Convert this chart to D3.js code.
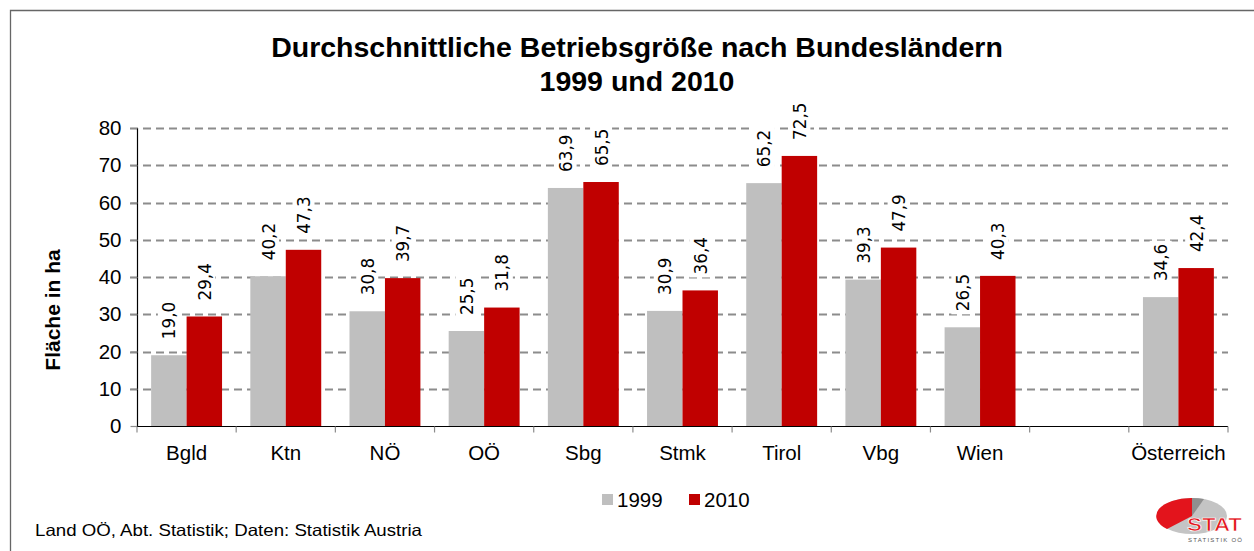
<!DOCTYPE html>
<html><head><meta charset="utf-8">
<script src="https://cdn.jsdelivr.net/npm/d3@7"></script>
<style>body{margin:0;background:#fff}svg{display:block}</style>
</head><body>
<svg id="c" width="1254" height="551"></svg>
<script>
const categories = ["Bgld","Ktn","NÖ","OÖ","Sbg","Stmk","Tirol","Vbg","Wien","","Österreich"];
const series1999 = [19.0,40.2,30.8,25.5,63.9,30.9,65.2,39.3,26.5,null,34.6];
const series2010 = [29.4,47.3,39.7,31.8,65.5,36.4,72.5,47.9,40.3,null,42.4];
const seriesNames = ["1999","2010"];
const yTicks = [0,10,20,30,40,50,60,70,80];
const titleLines = ["Durchschnittliche Betriebsgröße nach Bundesländern","1999 und 2010"];
const yLabel = "Fläche in ha";
const sourceText = "Land OÖ, Abt. Statistik; Daten: Statistik Austria";

(function(){
const colors = ["#bfbfbf","#c00000"];
const svg = d3.select("#c");
const F = "'Liberation Sans', Arial, sans-serif";

// frame
svg.append("path").attr("d","M10.5,551 V10.5 H1254").attr("fill","none").attr("stroke","#666").attr("stroke-width",1.3);

// title
svg.append("g").selectAll("text").data(titleLines).join("text")
  .attr("x",637).attr("y",(d,i)=>57+i*34).attr("text-anchor","middle")
  .attr("font-family",F).attr("font-weight","bold").attr("font-size",28.5).attr("fill","#000").text(d=>d);

const pL=137, pR=1228, pT=128, pB=426;
const x = d3.scaleBand().domain(d3.range(categories.length)).range([pL,pR]).paddingInner(0.285).paddingOuter(0.1425);
const x1 = d3.scaleBand().domain([0,1]).range([0,x.bandwidth()]);
const y = d3.scaleLinear().domain([0,80]).range([pB,pT]);

// grid
svg.append("g").selectAll("line").data(yTicks.filter(d=>d>0)).join("line")
  .attr("x1",pL-7).attr("x2",pR).attr("y1",d=>Math.round(y(d))+0.5).attr("y2",d=>Math.round(y(d))+0.5)
  .attr("stroke","#8c8c8c").attr("stroke-width",1.8).attr("stroke-dasharray","8,5");

// y axis
const yAxis = svg.append("g").attr("transform",`translate(${pL+0.5},0)`)
  .call(d3.axisLeft(y).tickValues(yTicks).tickSize(7).tickPadding(9).tickFormat(d3.format("d")));
yAxis.select(".domain").attr("stroke","#000").attr("stroke-width",1.2).attr("d",`M0,${pT}V${pB}`);
yAxis.selectAll(".tick line").attr("stroke","#8c8c8c").attr("stroke-width",1.2);
yAxis.selectAll("text").attr("font-family",F).attr("font-size",20.5).attr("fill","#000");

svg.append("text").attr("transform","translate(60,310) rotate(-90)").attr("text-anchor","middle")
  .attr("font-family",F).attr("font-weight","bold").attr("font-size",21).text(yLabel);

// bars
const data = categories.map((c,i)=>({i,vals:[series1999[i],series2010[i]]}));
const groups = svg.append("g").selectAll("g").data(data).join("g").attr("transform",d=>`translate(${x(d.i)},0)`);
groups.selectAll("rect").data(d=>d.vals.map((v,k)=>({v,k})).filter(e=>e.v!=null)).join("rect")
  .attr("x",e=>x1(e.k)).attr("width",x1.bandwidth()).attr("y",e=>y(e.v)).attr("height",e=>y(0)-y(e.v))
  .attr("fill",e=>colors[e.k]);

// value labels
const fmt = v=>d3.format(".1f")(v).replace(".",",");
groups.each(function(d){
  const g=d3.select(this);
  d.vals.forEach((v,k)=>{
    if(v==null) return;
    const cx=x1(k)+x1.bandwidth()/2, by=y(v)-16;
    const t=g.append("text").attr("transform",`translate(${cx+6.5},${by}) rotate(-90)`)
      .attr("font-family","'DejaVu Sans', Verdana, sans-serif").attr("font-size",16.8).attr("fill","#000").text(fmt(v));
    const bb=t.node().getBBox();
    g.insert("rect","text").attr("x",cx-11).attr("y",by-bb.width-3).attr("width",22).attr("height",bb.width+6).attr("fill","#fff");
  });
});

// x axis
const xAxis = svg.append("g").attr("transform",`translate(0,${pB+0.5})`);
xAxis.append("line").attr("x1",pL).attr("x2",pR).attr("stroke","#000").attr("stroke-width",1.2);
const step = (pR-pL)/categories.length;
xAxis.selectAll("line.t").data(d3.range(categories.length+1)).join("line").attr("class","t")
  .attr("x1",i=>pL+i*step).attr("x2",i=>pL+i*step).attr("y1",0).attr("y2",6).attr("stroke","#8c8c8c").attr("stroke-width",1.2);
xAxis.selectAll("text").data(data).join("text").attr("x",d=>x(d.i)+x.bandwidth()/2).attr("y",33)
  .attr("text-anchor","middle").attr("font-family",F).attr("font-size",20.5).attr("fill","#000").text(d=>categories[d.i]);

// legend
const leg = svg.append("g");
const legX=[602,689];
seriesNames.forEach((n,k)=>{
  leg.append("rect").attr("x",legX[k]).attr("y",494).attr("width",11).attr("height",11).attr("fill",colors[k]);
  leg.append("text").attr("x",legX[k]+15).attr("y",507).attr("font-family",F).attr("font-size",20.5).attr("fill","#000").text(n);
});

// source
svg.append("text").attr("x",35).attr("y",536).attr("font-family",F).attr("font-size",16.5).attr("textLength",387)
  .attr("lengthAdjust","spacingAndGlyphs").attr("fill","#000").text(sourceText);

// logo
const lg = svg.append("g");
lg.append("ellipse").attr("cx",1192).attr("cy",516).attr("rx",35).attr("ry",18).attr("fill","#c4c4c4");
lg.append("path").attr("d","M1192,516 L1192,498 A35,18 0 0 0 1167,529 Z").attr("fill","#e3141c");
lg.append("path").attr("d","M1192,516 L1192,498 A35,18 0 0 1 1204,499 Z").attr("fill","#8f8f8f");
lg.append("text").attr("x",1187).attr("y",531).attr("textLength",55).attr("lengthAdjust","spacingAndGlyphs").attr("font-family",F).attr("font-weight","bold")
  .attr("font-size",19).attr("fill","#e3141c").attr("stroke","#fff").attr("stroke-width",0.7).text("STAT");
lg.append("text").attr("x",1188).attr("y",542).attr("textLength",54).attr("font-family",F)
  .attr("font-size",6).attr("fill","#555").text("STATISTIK OÖ");
})();
</script>
</body></html>
